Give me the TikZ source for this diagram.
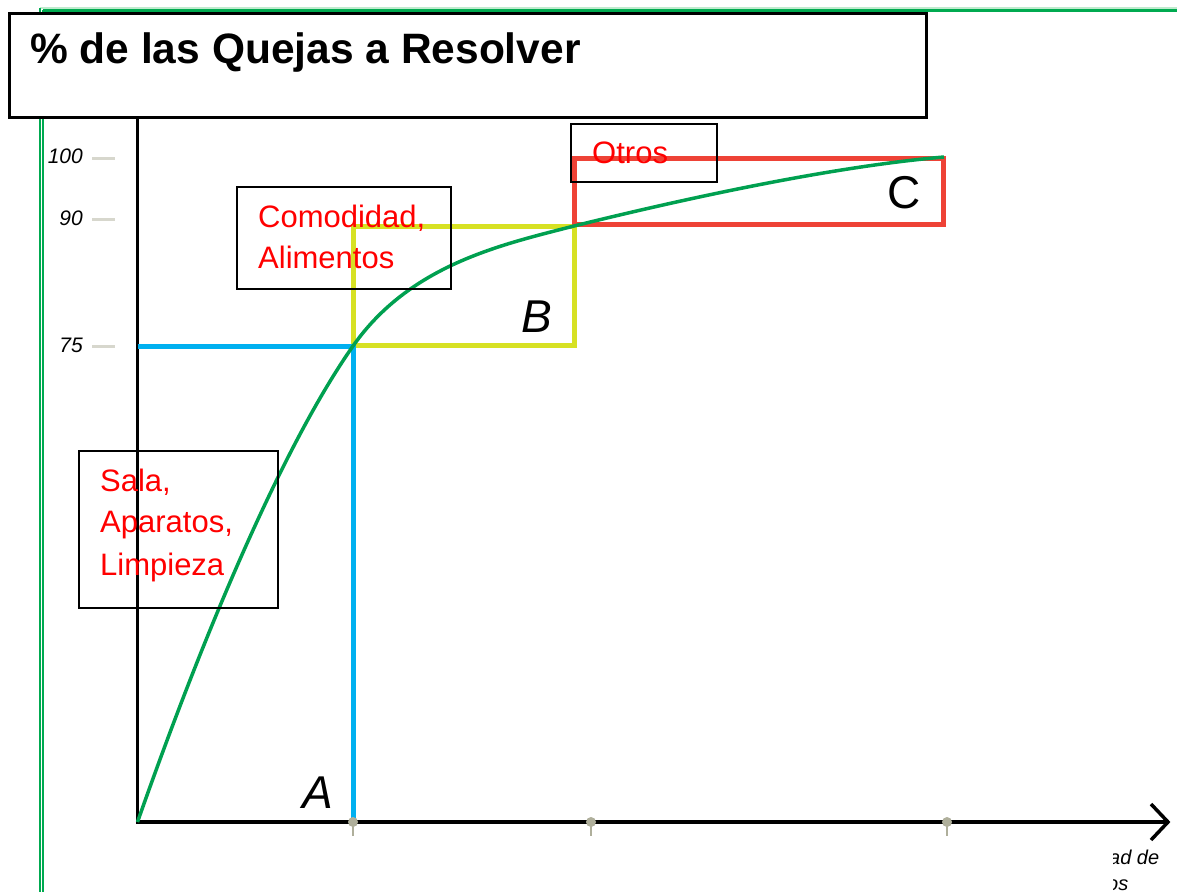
\documentclass[tikz,border=0pt]{standalone}
\usepackage{fontspec}
\setmainfont{Liberation Sans}
\definecolor{framegreen}{RGB}{0,170,80}
\definecolor{framelight}{RGB}{190,235,205}
\definecolor{tickgray}{RGB}{215,215,205}
\definecolor{dotgray}{RGB}{175,175,155}
\definecolor{zoneA}{RGB}{0,176,240}
\definecolor{zoneB}{RGB}{215,225,35}
\definecolor{zoneC}{RGB}{238,66,54}
\definecolor{curvegreen}{RGB}{0,160,80}
\definecolor{labelred}{RGB}{255,0,0}
\tikzset{
  framelinev/.style={framegreen, line width=1.3pt},
  ytick/.style={tickgray, line width=3pt},
  ylab/.style={anchor=base east, inner sep=0pt, font=\fontsize{21}{21}\selectfont\itshape},
  axisline/.style={black, line width=3.5pt},
  zone/.style={line width=5pt},
  thinbox/.style={draw=black, line width=1.6pt},
  redtext/.style={anchor=base west, inner sep=0pt, text=labelred, font=\fontsize{31}{31}\selectfont},
  zonelabel/.style={anchor=base west, inner sep=0pt, font=\fontsize{46}{46}\selectfont},
  xdot/.style={fill=dotgray, draw=none, circle, minimum size=10pt, inner sep=0pt},
  xlab/.style={anchor=base west, inner sep=0pt, font=\fontsize{20}{20}\selectfont\itshape}
}
\begin{document}
\begin{tikzpicture}[x=1pt,y=-1pt]
\useasboundingbox (0,0) rectangle (1177,892);
% frame lines
\draw[framelight, line width=1.5pt] (40,8) -- (1177,8);
\draw[framegreen, line width=2.2pt] (43,10.5) -- (1177,10.5);
\draw[framelinev] (40,8) -- (40,892);
\draw[framelinev] (43,10) -- (43,892);
% title box
\node[draw=black, line width=2.8pt, fill=white, minimum width=917pt, minimum height=104pt, inner sep=0pt, anchor=north west] (title) at (8,12) {};
\node[anchor=base west, inner sep=0pt, font=\fontsize{42.5}{42.5}\selectfont\bfseries] (titletext) at (30,63) {\% de las Quejas a Resolver};
% y ticks and labels
\draw[ytick] (92,158) -- (115,158);
\draw[ytick] (92,219) -- (115,219);
\draw[ytick] (92,346) -- (115,346);
\node[ylab] (l100) at (83,163) {100};
\node[ylab] (l90) at (83,225) {90};
\node[ylab] (l75) at (83,352) {75};
% axes
\coordinate (O) at (137.5,822);
\coordinate (Ytop) at (137.5,118);
\coordinate (Xend) at (1168,822);
\draw[axisline] (Ytop) -- (O) -- (Xend);
\draw[axisline, line join=miter] (1151,804) -- (Xend) -- (1151,840);
% zones
\draw[zoneB, zone] (353,226) rectangle (574,345);
\draw[zoneC, zone] (574,158) rectangle (943,224);
\draw[zoneA, zone] (137.5,346) -- (353,346) -- (353,822);
% curve
\coordinate (pA) at (353,346);
\coordinate (pB) at (574,226);
\coordinate (pC) at (944,157);
\draw[curvegreen, line width=3.5pt] (O) .. controls (205,630) and (283,446) .. (pA)
  .. controls (410,265) and (500,245) .. (pB)
  .. controls (720,190) and (850,165) .. (pC);
% x-axis dots
\foreach \x/\n in {353/d1,591/d2,947/d3} {
  \draw[dotgray, line width=1.5pt] (\x,822) -- (\x,836);
  \node[xdot] (\n) at (\x,822) {};
}
% zone letters
\node[zonelabel] (la) at (302,808) {\itshape A};
\node[zonelabel] (lb) at (521,332) {\itshape B};
\node[zonelabel] (lc) at (887,208) {C};
% text boxes
\draw[thinbox] (237,187) rectangle (451,289);
\node[redtext] (t1) at (258,227) {Comodidad,};
\node[redtext] (t2) at (258,268) {Alimentos};
\draw[thinbox] (571,124) rectangle (717,182);
\node[redtext] (t3) at (592,163) {Otros};
\draw[thinbox] (79,451) rectangle (278,608);
\node[redtext] (t4) at (100,491) {Sala,};
\node[redtext] (t5) at (100,532) {Aparatos,};
\node[redtext] (t6) at (100,575) {Limpieza};
% clipped x-axis label
\begin{scope}
\clip (1113,840) rectangle (1177,892);
\node[xlab] (x1) at (1109,864) {ad de};
\node[xlab] (x2) at (1107,890) {os};
\end{scope}
\end{tikzpicture}
\end{document}
